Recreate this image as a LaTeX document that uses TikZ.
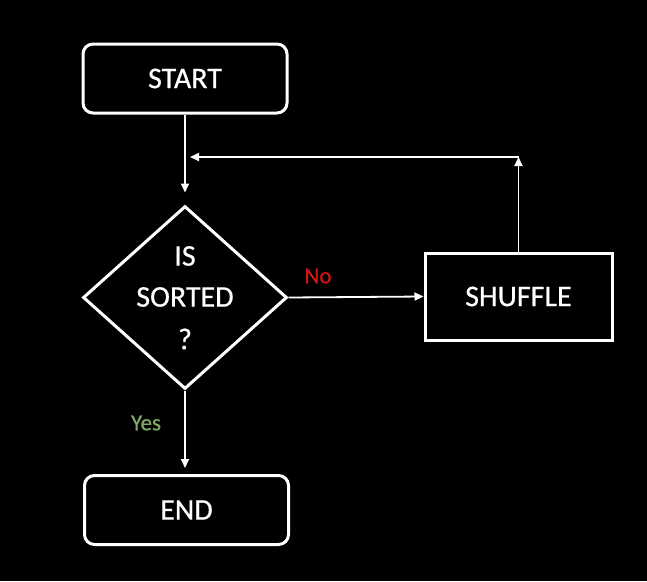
\documentclass[tikz,border=0pt]{standalone}
\usepackage{fontspec}
\setmainfont{Carlito}[FakeBold=0.6]
\usetikzlibrary{shapes.geometric,arrows.meta}
\definecolor{nored}{RGB}{210,20,20}
\definecolor{yesgreen}{RGB}{130,170,100}
\begin{document}
\begin{tikzpicture}[x=1pt,y=-1pt,
  every node/.style={font=\fontsize{30}{34}\selectfont, text=white},
  termbox/.style={draw=white, line width=3pt, rounded corners=10pt, minimum width=204pt, minimum height=69pt, inner sep=0pt},
  procbox/.style={draw=white, line width=3pt, minimum width=187pt, minimum height=87pt, inner sep=0pt},
  decbox/.style={draw=white, line width=3pt, diamond, minimum width=204pt, minimum height=183pt, inner sep=0pt, align=center, aspect=1.1},
  conn/.style={draw=white, line width=1.8pt, -{Triangle[length=9pt,width=8pt]}},
  lbl/.style={font=\fontsize{23}{26}\selectfont}
]
\fill[black] (0,0) rectangle (647,581);
\useasboundingbox (0,0) rectangle (647,581);
\node[termbox] (start) at (185,78.5) {START};
\node[decbox] (dec) at (185,297.5) {};
\node (l1) at (185,256) {IS};
\node (l2) at (185,297) {SORTED};
\node (l3) at (185,339) {?};
\node[procbox] (shuf) at (518.5,296.5) {SHUFFLE};
\node[termbox] (end) at (186.5,510) {END};
\coordinate (top) at (518.5,157);
\coordinate (join) at (190,157);
\draw[conn, shorten >=12pt] (start.south) -- (start.south |- dec.north);
\draw[conn] (dec.east) -- (shuf.west);
\draw[conn, shorten >=6pt] (dec.south) -- (end.north -| dec.south);
\draw[conn] (shuf.north) -- (top);
\draw[conn] (top) -- (join);
\node[lbl, text=nored] (no) at (318,276) {No};
\node[lbl, text=yesgreen] (yes) at (146,423) {Yes};
\end{tikzpicture}
\end{document}
